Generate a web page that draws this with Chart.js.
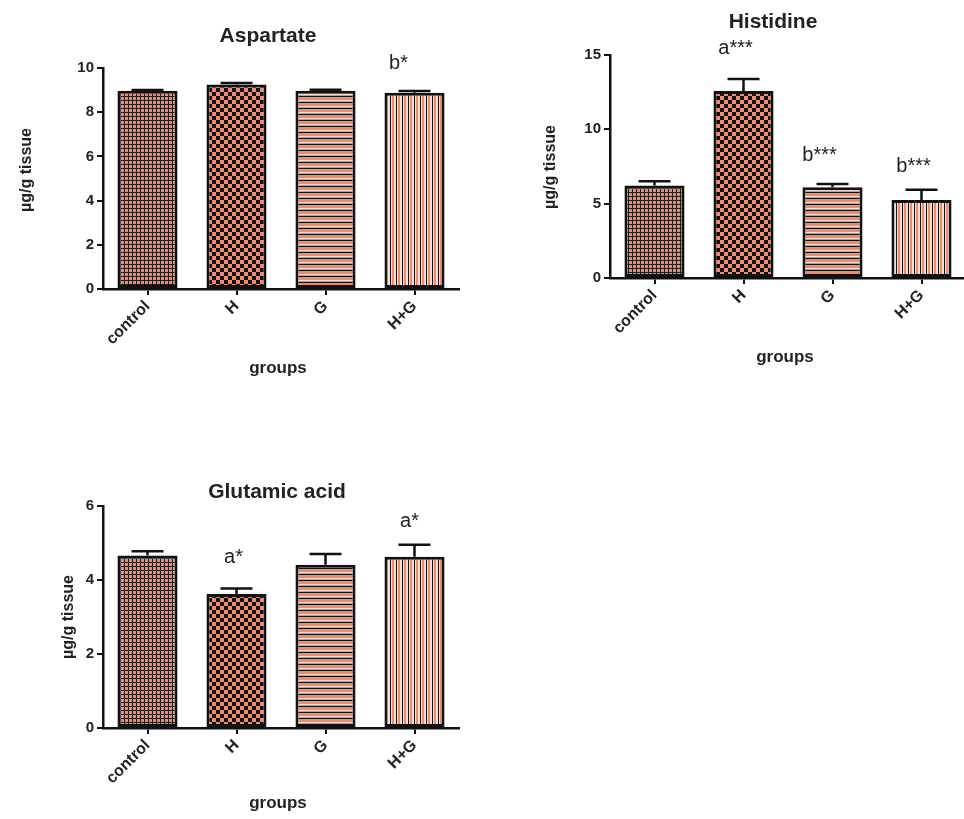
<!DOCTYPE html>
<html>
<head>
<meta charset="utf-8">
<script src="https://cdn.jsdelivr.net/npm/chart.js@4.4.1/dist/chart.umd.min.js"></script>
<style>
  html, body { margin: 0; padding: 0; background: #ffffff; overflow: hidden; }
  body { width: 964px; height: 819px; position: relative; }
  canvas { position: absolute; }
</style>
</head>
<body>
<canvas id="aspartate" width="480" height="400" style="left:0px;top:0px"></canvas>
<canvas id="histidine" width="470" height="400" style="left:500px;top:0px"></canvas>
<canvas id="glutamic" width="480" height="390" style="left:0px;top:430px"></canvas>
<script>
// Groups on the x axis
const categories = ['control', 'H', 'G', 'H+G'];

// Aspartate (µg/g tissue): mean and SEM per group
const aspartateMeans = [8.97, 9.25, 8.97, 8.88];
const aspartateErrors = [0.04, 0.07, 0.05, 0.08];
const aspartateTicks = [0, 2, 4, 6, 8, 10];
const aspartateMarks = ['', '', '', 'b*'];

// Histidine (µg/g tissue)
const histidineMeans = [6.22, 12.58, 6.10, 5.25];
const histidineErrors = [0.28, 0.80, 0.22, 0.68];
const histidineTicks = [0, 5, 10, 15];
const histidineMarks = ['', 'a***', 'b***', 'b***'];

// Glutamic acid (µg/g tissue)
const glutamicMeans = [4.66, 3.62, 4.41, 4.63];
const glutamicErrors = [0.12, 0.15, 0.29, 0.32];
const glutamicTicks = [0, 2, 4, 6];
const glutamicMarks = ['', 'a*', '', 'a*'];

const SALMON = '#ef8a6c';
const LIGHT = '#fcdcd0';
const INK = '#111111';

// Fill patterns, one per group
function makePattern(kind) {
  const c = document.createElement('canvas');
  const g = c.getContext('2d');
  if (kind === 'mesh') {
    c.width = 4; c.height = 4;
    g.fillStyle = SALMON; g.fillRect(0, 0, 4, 4);
    g.fillStyle = '#2a1a16'; g.fillRect(0, 0, 4, 1); g.fillRect(0, 0, 1, 4);
  } else if (kind === 'checker') {
    c.width = 8; c.height = 8;
    g.fillStyle = SALMON; g.fillRect(0, 0, 8, 8);
    g.fillStyle = INK; g.fillRect(0, 0, 4, 4); g.fillRect(4, 4, 4, 4);
  } else if (kind === 'hstripe') {
    c.width = 6; c.height = 6;
    g.fillStyle = SALMON; g.fillRect(0, 0, 6, 6);
    g.fillStyle = INK; g.fillRect(0, 0, 6, 1);
    g.fillStyle = LIGHT; g.fillRect(0, 4, 6, 1);
  } else {
    c.width = 6; c.height = 6;
    g.fillStyle = LIGHT; g.fillRect(0, 0, 6, 6);
    g.fillStyle = INK; g.fillRect(0, 0, 1, 6);
    g.fillStyle = SALMON; g.fillRect(2, 0, 2, 6);
  }
  return g.createPattern(c, 'repeat');
}
const fills = [makePattern('mesh'), makePattern('checker'), makePattern('hstripe'), makePattern('vstripe')];

// Upper error whiskers and significance letters
const whiskerPlugin = {
  id: 'whiskers',
  afterDatasetsDraw(chart, args, opts) {
    const ctx = chart.ctx;
    const yScale = chart.scales.y;
    const meta = chart.getDatasetMeta(0);
    const ds = chart.data.datasets[0];
    ctx.save();
    ctx.strokeStyle = INK;
    ctx.lineWidth = 2.5;
    meta.data.forEach((bar, i) => {
      const yTop = yScale.getPixelForValue(ds.data[i] + opts.errors[i]);
      ctx.beginPath();
      ctx.moveTo(bar.x, bar.y);
      ctx.lineTo(bar.x, yTop);
      ctx.moveTo(bar.x - 16, yTop);
      ctx.lineTo(bar.x + 16, yTop);
      ctx.stroke();
      const m = opts.marks[i];
      if (m) {
        const off = opts.markPlace[i];
        ctx.fillStyle = '#222';
        ctx.font = '20px "Liberation Sans", Arial, sans-serif';
        ctx.textAlign = 'center';
        ctx.textBaseline = 'middle';
        ctx.fillText(m, bar.x + off[0], yTop - off[1]);
      }
    });
    ctx.restore();
  }
};

// Panel title and axis titles
const textPlugin = {
  id: 'panelText',
  afterDraw(chart, args, opts) {
    const ctx = chart.ctx;
    ctx.save();
    ctx.fillStyle = '#222';
    ctx.textAlign = 'center';
    ctx.textBaseline = 'middle';
    ctx.font = 'bold 21px "Liberation Sans", Arial, sans-serif';
    ctx.fillText(opts.title, opts.titleX, opts.titleY);
    ctx.font = 'bold 17px "Liberation Sans", Arial, sans-serif';
    ctx.fillText('groups', opts.xLabelX, opts.xLabelY);
    ctx.translate(opts.yLabelX, opts.yLabelY);
    ctx.rotate(-Math.PI / 2);
    ctx.font = 'bold 16px "Liberation Sans", Arial, sans-serif';
    ctx.fillText('µg/g tissue', 0, 0);
    ctx.restore();
  }
};

function buildChart(id, cfg) {
  const axisGrid = {
    display: true, drawOnChartArea: false, drawTicks: true,
    tickLength: 6, color: INK, lineWidth: 2, offset: false
  };
  const axisBorder = { display: true, color: INK, width: 2.5 };
  const tickFont = { family: '"Liberation Sans", Arial, sans-serif', size: 15, weight: 'bold' };
  return new Chart(document.getElementById(id), {
    type: 'bar',
    data: {
      labels: categories,
      datasets: [{
        data: cfg.means,
        backgroundColor: fills,
        borderColor: INK,
        borderWidth: 3,
        borderSkipped: false,
        barPercentage: 0.675,
        categoryPercentage: 1
      }]
    },
    options: {
      responsive: false,
      animation: false,
      devicePixelRatio: 1,
      layout: { padding: cfg.padding },
      plugins: {
        legend: { display: false },
        tooltip: { enabled: false },
        whiskers: { errors: cfg.errors, marks: cfg.marks, markPlace: cfg.markPlace },
        panelText: cfg.text
      },
      scales: {
        x: {
          offset: true,
          grid: axisGrid,
          border: axisBorder,
          ticks: { color: '#222', font: { ...tickFont, size: 16 }, minRotation: 45, maxRotation: 45, autoSkip: false, padding: 2 },
          afterFit(s) { s.height = cfg.xHeight; }
        },
        y: {
          min: 0,
          max: cfg.ticks[cfg.ticks.length - 1],
          afterBuildTicks(s) { s.ticks = cfg.ticks.map(v => ({ value: v })); },
          grid: axisGrid,
          border: axisBorder,
          ticks: { color: '#222', font: tickFont, padding: 3 },
          afterFit(s) { s.width = cfg.yWidth; }
        }
      }
    },
    plugins: [whiskerPlugin, textPlugin]
  });
}

buildChart('aspartate', {
  means: aspartateMeans, errors: aspartateErrors, ticks: aspartateTicks, marks: aspartateMarks,
  markPlace: [[0, 0], [0, 0], [0, 0], [-16, 27]],
  padding: { top: 68, right: 21, left: 0, bottom: 0 },
  yWidth: 103, xHeight: 111,
  text: { title: 'Aspartate', titleX: 268, titleY: 36, xLabelX: 278, xLabelY: 368, yLabelX: 27, yLabelY: 170 }
});

buildChart('histidine', {
  means: histidineMeans, errors: histidineErrors, ticks: histidineTicks, marks: histidineMarks,
  markPlace: [[0, 0], [-8, 31], [-13, 29], [-8, 23]],
  padding: { top: 55, right: 4, left: 0, bottom: 0 },
  yWidth: 110, xHeight: 122,
  text: { title: 'Histidine', titleX: 273, titleY: 22, xLabelX: 285, xLabelY: 357, yLabelX: 51, yLabelY: 167 }
});

buildChart('glutamic', {
  means: glutamicMeans, errors: glutamicErrors, ticks: glutamicTicks, marks: glutamicMarks,
  markPlace: [[0, 0], [-3, 31], [0, 0], [-5, 23]],
  padding: { top: 76, right: 21, left: 0, bottom: 0 },
  yWidth: 103, xHeight: 92,
  text: { title: 'Glutamic acid', titleX: 277, titleY: 62, xLabelX: 278, xLabelY: 373, yLabelX: 69, yLabelY: 187 }
});
</script>
</body>
</html>
